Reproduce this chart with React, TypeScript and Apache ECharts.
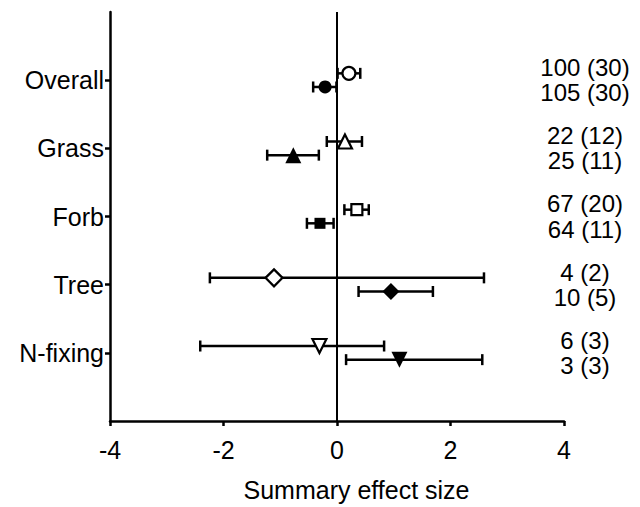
import React, { useEffect, useRef } from "react";
import * as echarts from "echarts";

const categories = ["Overall", "Grass", "Forb", "Tree", "N-fixing"];
// open symbols (upper row of each category)
const openMean = [0.21, 0.14, 0.35, -1.11, -0.31];
const openLow = [0.01, -0.18, 0.13, -2.24, -2.41];
const openHigh = [0.41, 0.44, 0.56, 2.59, 0.83];
// filled symbols (lower row)
const filledMean = [-0.21, -0.77, -0.3, 0.95, 1.1];
const filledLow = [-0.42, -1.23, -0.53, 0.38, 0.16];
const filledHigh = [-0.01, -0.32, -0.06, 1.69, 2.56];
// sample sizes shown at right: n (k)
const openN = [100, 22, 67, 4, 6];
const openK = [30, 12, 20, 2, 3];
const filledN = [105, 25, 64, 10, 3];
const filledK = [30, 11, 11, 5, 3];
// x-axis ticks
const xMin = -4;
const xMax = 4;
const xStep = 2;

const FONT = "'Liberation Sans', Arial, Helvetica, sans-serif";
const SYMBOLS = ["circle", "triangle", "rect", "diamond", "triangle"];
const ROTATE = [0, 0, 0, 0, 180];
const SIZES = [13, 14, 11, 17, 14];
const ROW_OFFSET = 0.1;
const LABEL_OFFSET = 0.185;
const LABEL_X = 4.37;

const catY = (i: number) => categories.length - i;

export default function App() {
  const ref = useRef<HTMLDivElement>(null);
  useEffect(() => {
    if (!ref.current) return;
    const chart = echarts.init(ref.current, null, { renderer: "svg" });

    const errRender = (params: any, api: any) => {
      const lo = api.coord([api.value(0), api.value(2)]);
      const hi = api.coord([api.value(1), api.value(2)]);
      const cap = 5.5;
      const st = { stroke: "#000", lineWidth: 2.5 };
      return {
        type: "group",
        children: [
          { type: "line", shape: { x1: lo[0], y1: lo[1], x2: hi[0], y2: hi[1] }, style: st },
          { type: "line", shape: { x1: lo[0], y1: lo[1] - cap, x2: lo[0], y2: lo[1] + cap }, style: st },
          { type: "line", shape: { x1: hi[0], y1: hi[1] - cap, x2: hi[0], y2: hi[1] + cap }, style: st },
        ],
      };
    };

    const errData = [
      ...categories.map((_, i) => [openLow[i], openHigh[i], catY(i) + ROW_OFFSET]),
      ...categories.map((_, i) => [filledLow[i], filledHigh[i], catY(i) - ROW_OFFSET]),
    ];

    const openData = categories.map((_, i) => ({
      value: [openMean[i], catY(i) + ROW_OFFSET],
      symbol: SYMBOLS[i],
      symbolRotate: ROTATE[i],
      symbolSize: SIZES[i],
    }));
    const filledData = categories.map((_, i) => ({
      value: [filledMean[i], catY(i) - ROW_OFFSET],
      symbol: SYMBOLS[i],
      symbolRotate: ROTATE[i],
      symbolSize: SIZES[i] + (i === 1 || i === 4 ? 2 : 0),
    }));
    const labelData = [
      ...categories.map((_, i) => [LABEL_X, catY(i) + LABEL_OFFSET, `${openN[i]} (${openK[i]})`]),
      ...categories.map((_, i) => [LABEL_X, catY(i) - LABEL_OFFSET, `${filledN[i]} (${filledK[i]})`]),
    ];

    chart.setOption({
      animation: false,
      grid: { left: 110, right: 76, top: 12, bottom: 86, containLabel: false },
      xAxis: {
        type: "value",
        min: xMin,
        max: xMax,
        interval: xStep,
        name: "Summary effect size",
        nameLocation: "middle",
        nameGap: 56,
        nameTextStyle: { fontSize: 25, color: "#000", fontFamily: FONT, padding: [0, 0, 0, 39] },
        axisLine: { show: true, onZero: false, lineStyle: { color: "#000", width: 2.5 } },
        axisTick: { show: true, length: 5, lineStyle: { color: "#000", width: 2.5 } },
        axisLabel: { fontSize: 25, color: "#000", fontFamily: FONT, margin: 16 },
        splitLine: { show: false },
      },
      yAxis: {
        type: "value",
        min: 0,
        max: 6,
        interval: 1,
        axisLine: { show: true, onZero: false, lineStyle: { color: "#000", width: 2.5 } },
        axisTick: {
          show: true,
          length: 5,
          customValues: [1, 2, 3, 4, 5],
          lineStyle: { color: "#000", width: 2.5 },
        },
        axisLabel: {
          fontSize: 25,
          color: "#000",
          fontFamily: FONT,
          margin: 6,
          customValues: [1, 2, 3, 4, 5],
          formatter: (v: number) => categories[categories.length - Math.round(v)] ?? "",
        },
        splitLine: { show: false },
      },
      series: [
        {
          type: "custom",
          renderItem: errRender,
          data: errData,
          encode: { x: [0, 1], y: 2 },
          z: 2,
          markLine: {
            silent: true,
            symbol: "none",
            label: { show: false },
            lineStyle: { color: "#000", width: 2, type: "solid", opacity: 1 },
            data: [{ xAxis: 0 }],
          },
        },
        {
          type: "scatter",
          data: openData,
          itemStyle: { color: "#fff", borderColor: "#000", borderWidth: 2.2, opacity: 1 },
          z: 3,
        },
        {
          type: "scatter",
          data: filledData,
          itemStyle: { color: "#000", borderColor: "#000", borderWidth: 0, opacity: 1 },
          z: 3,
        },
        {
          type: "scatter",
          data: labelData,
          symbolSize: 0,
          clip: false,
          silent: true,
          itemStyle: { opacity: 1 },
          label: {
            show: true,
            position: "inside",
            formatter: (p: any) => p.value[2],
            fontSize: 24,
            color: "#000",
            opacity: 1,
            fontFamily: FONT,
            align: "center",
            verticalAlign: "middle",
          },
          z: 4,
        },
      ],
    });
    return () => chart.dispose();
  }, []);

  return (
    <div
      ref={ref}
      style={{ position: "absolute", left: 0, top: 0, width: 640, height: 507, background: "#fff" }}
    />
  );
}
